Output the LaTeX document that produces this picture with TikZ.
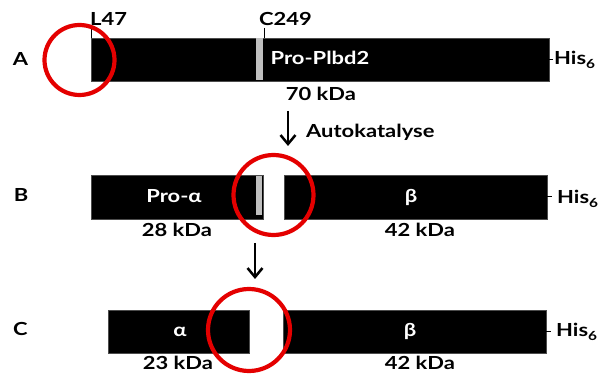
\documentclass[tikz,border=0pt]{standalone}
\usepackage{fontspec}
\setmainfont{Lato}
\newfontfamily\figfont[FakeStretch=1.22]{Lato}
\usetikzlibrary{arrows.meta}
\begin{document}
\begin{tikzpicture}[x=1pt,y=-1pt,
  bar/.style={fill=black,draw=black!70,line width=0.6pt},
  site/.style={fill=black!25,draw=none},
  lbl/.style={font=\figfont\bfseries\fontsize{18}{21}\selectfont,inner sep=0pt,anchor=base},
  wlbl/.style={lbl,text=white},
  ring/.style={draw={rgb,255:red,228;green,0;blue,0},line width=4.2pt},
  flow/.style={-{Straight Barb[length=9pt,width=15pt,line width=2.5pt]},line width=2.5pt},
  tick/.style={line width=1pt}]
\useasboundingbox (0,0) rectangle (598,374);
% Row A
\node[lbl] (lA) at (20.5,66) {A};
\path[bar] (91,38) rectangle (549,81);
\path[site] (256,38) rectangle (263,80);
\node[wlbl] (proP) at (320,65) {Pro-Plbd2};
\node[lbl,anchor=base west] (L47) at (90,26) {L47};
\node[lbl,anchor=base west] (C249) at (259,26) {C249};
\coordinate (l47a) at (91,28); \coordinate (l47b) at (91,38);
\draw[tick] (l47a) -- (l47b);
\coordinate (c249a) at (264,28); \coordinate (c249b) at (264,38);
\draw[tick] (c249a) -- (c249b);
\node[lbl] (kA) at (321,101) {70 kDa};
\node[lbl,anchor=base west] (hisA) at (554,65) {His\textsubscript{6}};
\coordinate (tA) at (549,60); \coordinate (tA2) at (553,60);
\draw[tick] (tA) -- (tA2);
\draw[ring] (79.5,60) circle (35);
% arrow 1
\coordinate (a1s) at (288,111); \coordinate (a1e) at (288,146);
\draw[flow] (a1s) -- (a1e);
\node[lbl,anchor=base west] (auto) at (306,138) {Autokatalyse};
% Row B
\node[lbl] (lB) at (21,202) {B};
\path[bar] (91,175) rectangle (263,219);
\path[site] (256,176) rectangle (262,215);
\path[bar] (284,175) rectangle (547,219);
\node[wlbl] (proA) at (174,203) {Pro-α};
\node[wlbl] (bB) at (411,203) {β};
\node[lbl] (kB1) at (177,237) {28 kDa};
\node[lbl] (kB2) at (420,237) {42 kDa};
\node[lbl,anchor=base west] (hisB) at (557,204) {His\textsubscript{6}};
\coordinate (tB) at (547,197); \coordinate (tB2) at (552,197);
\draw[tick] (tB) -- (tB2);
\draw[ring] (273.5,195) circle (40);
% arrow 2
\coordinate (a2s) at (255,243); \coordinate (a2e) at (255,279);
\draw[flow] (a2s) -- (a2e);
% Row C
\node[lbl] (lC) at (20.5,336) {C};
\path[bar] (108,310) rectangle (249,353);
\path[bar] (283,310) rectangle (546,353);
\node[wlbl] (aC) at (180,337) {α};
\node[wlbl] (bC) at (410,337) {β};
\node[lbl] (kC1) at (178,370) {23 kDa};
\node[lbl] (kC2) at (420,370) {42 kDa};
\node[lbl,anchor=base west] (hisC) at (556,337) {His\textsubscript{6}};
\coordinate (tC) at (546,332); \coordinate (tC2) at (551,332);
\draw[tick] (tC) -- (tC2);
\draw[ring] (249,330) circle (41);
\end{tikzpicture}
\end{document}
